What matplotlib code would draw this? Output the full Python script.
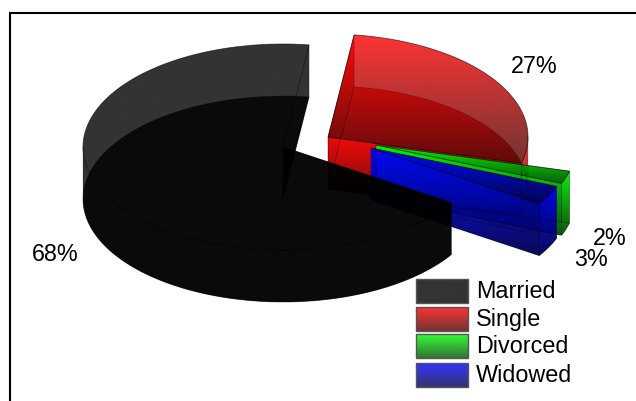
import numpy as np
import matplotlib
matplotlib.use('Agg')
import matplotlib.pyplot as plt
from matplotlib.patches import Polygon

categories = ['Married', 'Single', 'Divorced', 'Widowed']
values = [68, 27, 2, 3]

# slice look and placement, in pixels
colors = {'Married': (0, 0, 0), 'Single': (1, 0, 0), 'Divorced': (0, 1, 0), 'Widowed': (0, 0, 1)}
centers = {'Married': (283, 147), 'Single': (328, 137), 'Divorced': (376, 145), 'Widowed': (371, 148)}
label_pos = {'Married': (55, 261), 'Single': (534, 73), 'Divorced': (610, 245), 'Widowed': (591, 266)}
RX, RY, DEPTH = 200, 103, 52
START = 82.5
ALPHA = 0.8
DARK = 0.3
FAINT = (0, 0, 0, 0.22)
STRONG = (0, 0, 0, 0.6)

plt.rcParams['font.family'] = ['Liberation Sans', 'DejaVu Sans']

fig = plt.figure(figsize=(6.36, 4.01), dpi=100)
ax = fig.add_axes([0, 0, 1, 1])


def gradient_face(pts, color, edgecolor=STRONG, lw=0.6):
	''' Многоугольник с вертикальным градиентом от цвета к темному оттенку '''
	pts = np.asarray(pts)
	x0, x1 = pts[:, 0].min(), pts[:, 0].max()
	y0, y1 = pts[:, 1].min(), pts[:, 1].max()
	t = np.linspace(0, 1, 256)[:, None, None]
	c = np.array(color)[None, None, :]
	rgb = c * (1 - t) + c * DARK * t
	rgba = np.dstack([rgb, np.full((256, 1), ALPHA)])
	im = ax.imshow(rgba, extent=(x0, x1, y1, y0), origin='upper',
		aspect='auto', interpolation='bilinear')
	patch = Polygon(pts, closed=True, facecolor='none', edgecolor='none')
	ax.add_patch(patch)
	im.set_clip_path(patch)
	ax.add_patch(Polygon(pts, closed=True, facecolor='none', edgecolor=edgecolor, lw=lw))


def arc(cx, cy, a1, a2):
	th = np.radians(np.linspace(a1, a2, 160))
	return np.column_stack([cx + RX * np.cos(th), cy - RY * np.sin(th)])


def draw_slice(name, a1, a2):
	''' Сектор: a1 - начальный угол, a2 - конечный (по часовой стрелке) '''
	cx, cy = centers[name]
	col = colors[name]
	top_arc = arc(cx, cy, a1, a2)
	bot_arc = top_arc + [0, DEPTH]
	# нижняя грань
	gradient_face(np.vstack([[cx, cy + DEPTH], bot_arc]), col, edgecolor=FAINT)
	# боковые грани по радиусам
	for a in (a1, a2):
		p = arc(cx, cy, a, a)[0]
		gradient_face([[cx, cy], p, p + [0, DEPTH], [cx, cy + DEPTH]], col, edgecolor=FAINT)
	# внешняя стенка только в передней половине
	lo, hi = max(a2, -180), min(a1, 0)
	if lo < hi:
		rim = arc(cx, cy, lo, hi)
		gradient_face(np.vstack([rim, (rim + [0, DEPTH])[::-1]]), col, edgecolor=FAINT)
	# верхняя грань
	gradient_face(np.vstack([[cx, cy], top_arc]), col)


# углы секторов, идем по часовой стрелке начиная с Single
order = ['Single', 'Divorced', 'Widowed', 'Married']
val = dict(zip(categories, values))
angle = START
for name in order:
	sweep = val[name] / sum(values) * 360
	draw_slice(name, angle, angle - sweep)
	angle -= sweep

for name in categories:
	x, y = label_pos[name]
	ax.text(x, y, f'{val[name]}%', fontsize=16.8, color='black', ha='center', va='baseline')

# легенда
swatch_y = [279, 307, 334, 363]
for name, y in zip(categories, swatch_y):
	pts = [[416, y], [468, y], [468, y + 24], [416, y + 24]]
	gradient_face(pts, colors[name], edgecolor='#555555', lw=1.0)
	ax.text(476, y + 19, name, fontsize=16.8, color='black', ha='left', va='baseline')

# рамка сверху и слева
ax.plot([10, 10, 636], [401, 13, 13], color='black', lw=1.5, solid_joinstyle='miter')

ax.set_xlim(0, 636)
ax.set_ylim(401, 0)
ax.axis('off')
fig.savefig('out.png', dpi=100, facecolor='white')
